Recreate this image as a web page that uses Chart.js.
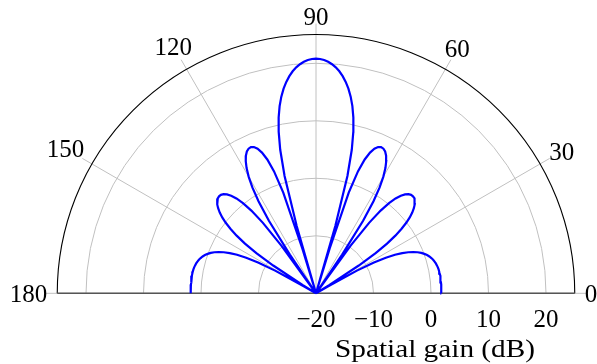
<!DOCTYPE html>
<html>
<head>
<meta charset="utf-8">
<script src="https://cdn.jsdelivr.net/npm/chart.js@4.4.0/dist/chart.umd.min.js"></script>
<style>
  html, body { margin: 0; padding: 0; background: #fff; }
  #wrap { width: 597px; height: 364px; }
</style>
</head>
<body>
<div id="wrap"><canvas id="myChart" width="597" height="364"></canvas></div>
<script>
// beam pattern, angle in degrees, gain in dB (nulls drawn at the -20 floor)
var angleDeg = [
    0, 1, 2, 3, 4, 5, 6, 7, 8, 9,
    10, 11, 12, 13, 14, 15, 16, 17, 18, 19,
    20, 21, 22, 23, 24, 25, 26, 27, 28, 29,
    30, 31, 32, 33, 34, 35, 36, 37, 38, 39,
    40, 41, 42, 43, 44, 45, 46, 47, 48, 49,
    50, 51, 52, 53, 54, 55, 56, 57, 58, 59,
    60, 61, 62, 63, 64, 65, 66, 67, 68, 69,
    70, 71, 72, 73, 73.4, 74, 75, 76, 77, 78,
    79, 80, 81, 82, 83, 84, 85, 86, 87, 88,
    89, 90, 91,
    92, 93, 94, 95, 96, 97, 98, 99, 100, 101,
    102, 103, 104, 105, 106, 106.6, 107, 108, 109, 110,
    111, 112, 113, 114, 115, 116, 117, 118, 119, 120,
    121, 122, 123, 124, 125, 126, 127, 128, 129, 130,
    131, 132, 133, 134, 135, 136, 137, 138, 139, 140,
    141, 142, 143, 144, 145, 146, 147, 148, 149, 150,
    151, 152, 153, 154, 155, 156, 157, 158, 159, 160,
    161, 162, 163, 164, 165, 166, 167, 168, 169, 170,
    171, 172, 173, 174, 175, 176, 177, 178, 179, 180
];
var gainDb = [
    1.80, 1.80, 1.80, 1.81, 1.81, 1.81, 1.81, 1.80, 1.80, 1.78,
    1.76, 1.72, 1.66, 1.58, 1.48, 1.35, 1.19, 0.98, 0.73, 0.43,
    0.05, -0.40, -0.95, -1.62, -2.44, -3.45, -4.72, -6.37, -8.59, -11.86,
    -17.63, -20, -17.31, -11.13, -7.49, -4.92, -2.94, -1.36, -0.08, 0.98,
    1.85, 2.55, 3.10, 3.50, 3.75, 3.85, 3.80, 3.57, 3.15, 2.49,
    1.53, 0.18, -1.74, -4.66, -9.75, -20, -11.87, -4.96, -1.13, 1.49,
    3.43, 4.90, 6.02, 6.86, 7.43, 7.75, 7.83, 7.63, 7.12, 6.22,
    4.77, 2.47, -1.58, -11.9, -20, -7.82, 1.12, 5.72, 8.86, 11.25,
    13.16, 14.73, 16.04, 17.13, 18.05, 18.82, 19.44, 19.94, 20.32, 20.59,
    20.75, 20.80, 20.75,
    20.59, 20.32, 19.94, 19.44, 18.82, 18.05, 17.13, 16.04, 14.73, 13.16,
    11.25, 8.86, 5.72, 1.12, -7.82, -20, -11.9, -1.58, 2.47, 4.77,
    6.22, 7.12, 7.63, 7.83, 7.75, 7.43, 6.86, 6.02, 4.90, 3.43,
    1.49, -1.13, -4.96, -11.87, -20, -9.75, -4.66, -1.74, 0.18, 1.53,
    2.49, 3.15, 3.57, 3.80, 3.85, 3.75, 3.50, 3.10, 2.55, 1.85,
    0.98, -0.08, -1.36, -2.94, -4.92, -7.49, -11.13, -17.31, -20, -17.63,
    -11.86, -8.59, -6.37, -4.72, -3.45, -2.44, -1.62, -0.95, -0.40, 0.05,
    0.43, 0.73, 0.98, 1.19, 1.35, 1.48, 1.58, 1.66, 1.72, 1.76,
    1.78, 1.80, 1.80, 1.81, 1.81, 1.81, 1.81, 1.80, 1.80, 1.80
];
var radialTicks = [-20, -10, 0, 10, 20];
var angleTicks = [0, 30, 60, 90, 120, 150, 180];
var rMin = -20;
var rMax = 25;
var axisTitle = "Spatial gain (dB)";

var font = "'Liberation Serif', 'Times New Roman', serif";
var fontSize = 25;

// polar -> cartesian, radius measured from the -20 dB floor
var points = [];
for (var i = 0; i < angleDeg.length; i++) {
    var r = Math.max(0, gainDb[i] - rMin);
    var a = angleDeg[i] * Math.PI / 180;
    points.push({ x: r * Math.cos(a), y: r * Math.sin(a) });
}

var polarGrid = {
    id: "polarGrid",
    beforeDatasetsDraw: function (chart) {
        var ctx = chart.ctx;
        var xs = chart.scales.x, ys = chart.scales.y;
        var cx = xs.getPixelForValue(0), cy = ys.getPixelForValue(0);
        var rad = function (v) { return xs.getPixelForValue(v - rMin) - cx; };
        var outer = rad(rMax);
        ctx.save();
        ctx.lineWidth = 1;
        ctx.strokeStyle = "#c0c0c0";
        radialTicks.forEach(function (v) {
            if (v <= rMin) return;
            ctx.beginPath();
            ctx.arc(cx, cy, rad(v), Math.PI, 2 * Math.PI);
            ctx.stroke();
        });
        angleTicks.forEach(function (d) {
            var a = d * Math.PI / 180;
            ctx.beginPath();
            ctx.moveTo(cx, cy);
            ctx.lineTo(cx + (outer + 11) * Math.cos(a), cy - (outer + 11) * Math.sin(a));
            ctx.stroke();
        });
        // outer rim and diameter
        ctx.strokeStyle = "#000";
        ctx.lineWidth = 1.1;
        ctx.beginPath();
        ctx.arc(cx, cy, outer, Math.PI, 2 * Math.PI);
        ctx.stroke();
        ctx.strokeStyle = "#555";
        ctx.lineWidth = 1.5;
        ctx.beginPath();
        ctx.moveTo(cx - outer, cy);
        ctx.lineTo(cx + outer, cy);
        ctx.stroke();
        ctx.restore();
    },
    afterDraw: function (chart) {
        var ctx = chart.ctx;
        var xs = chart.scales.x, ys = chart.scales.y;
        var cx = xs.getPixelForValue(0), cy = ys.getPixelForValue(0);
        var outer = xs.getPixelForValue(rMax - rMin) - cx;
        var digitH = 0.676 * fontSize;
        ctx.save();
        ctx.fillStyle = "#000";
        ctx.font = fontSize + "px " + font;
        ctx.textAlign = "center";
        ctx.textBaseline = "alphabetic";
        angleTicks.forEach(function (d) {
            var a = d * Math.PI / 180;
            var txt = String(d);
            var w = ctx.measureText(txt).width;
            var rr = outer + 10 + Math.abs(Math.cos(a)) * w / 2 + Math.abs(Math.sin(a)) * digitH / 2;
            ctx.fillText(txt, cx + rr * Math.cos(a), cy - rr * Math.sin(a) + digitH / 2);
        });
        radialTicks.forEach(function (v) {
            var txt = v < 0 ? "\u2212" + Math.abs(v) : String(v);
            ctx.fillText(txt, xs.getPixelForValue(v - rMin), cy + 34);
        });
        // axis title, stretched a little to the width of the original face
        var tw = ctx.measureText(axisTitle).width;
        ctx.translate(435, cy + 63.5);
        ctx.scale(200 / tw, 1);
        ctx.fillText(axisTitle, 0, 0);
        ctx.restore();
    }
};

window.onload = function () {
    var ctx = document.getElementById("myChart").getContext("2d");
    var myChart = new Chart(ctx, {
        type: "scatter",
        data: {
            datasets: [{
                data: points,
                showLine: true,
                borderColor: "#0000ff",
                borderWidth: 2.2,
                pointRadius: 0,
                tension: 0,
                clip: false
            }]
        },
        options: {
            responsive: false,
            animation: false,
            devicePixelRatio: 1,
            layout: { padding: { left: 57.25, right: 22.25, top: 34.55, bottom: 70.7 } },
            scales: {
                x: { type: "linear", min: -45, max: 45, display: false },
                y: { type: "linear", min: 0, max: 45, display: false }
            },
            plugins: {
                legend: { display: false },
                tooltip: { enabled: false }
            }
        },
        plugins: [polarGrid]
    });
};
</script>
</body>
</html>
